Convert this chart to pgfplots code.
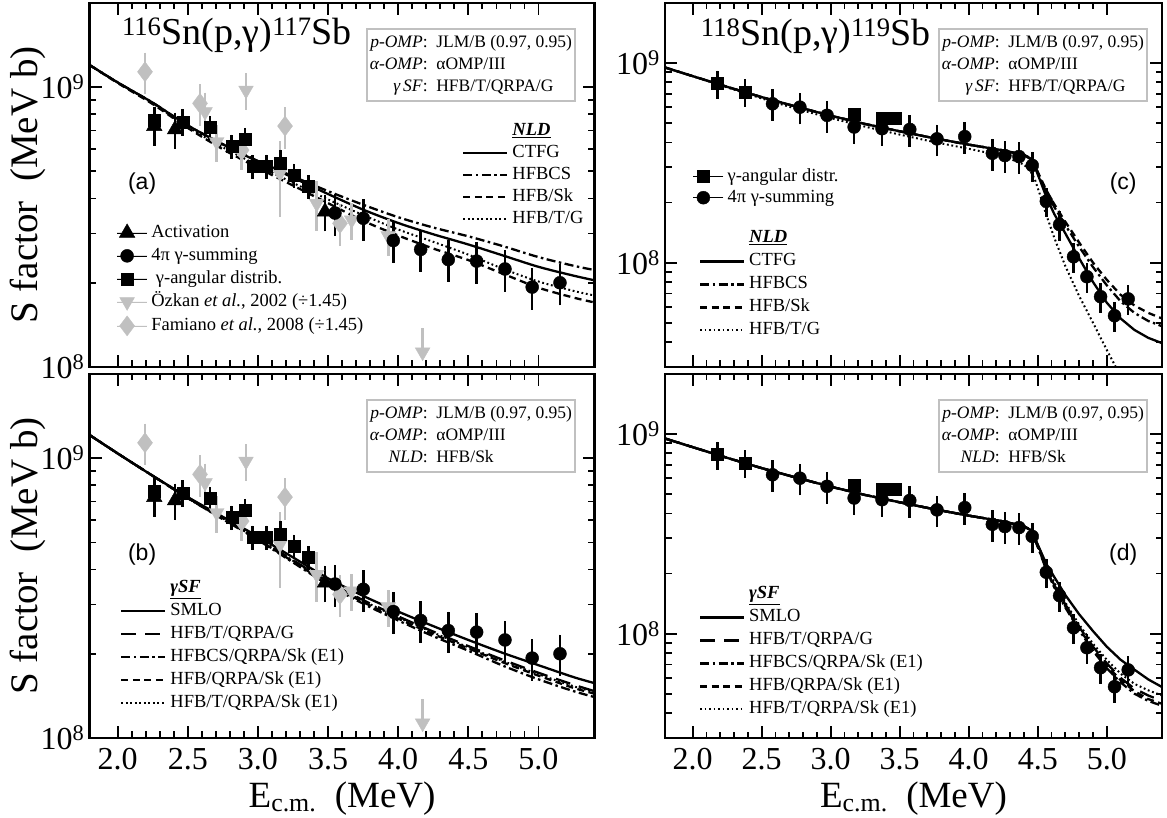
\documentclass[border=0pt]{standalone}
\usepackage{pgfplots}
\usepackage{pgfplotstable}
\pgfplotsset{compat=1.18}
\usepackage{fontspec}
\setmainfont{Liberation Serif}
\newfontfamily\sansfont{Liberation Sans}

\definecolor{lgray}{RGB}{192,192,192}
\newcommand{\legfont}{\fontsize{18.5}{23}\selectfont}
\newcommand{\boxfont}{\fontsize{17.5}{22}\selectfont}

% model curves, 116Sn: NLD variants
\pgfplotstableread{
E     CTFG    HFBCS   HFBSk    HFBTG
1.8   1.20e9  1.20e9  1.20e9   1.20e9
2.0   1.04e9  1.04e9  1.035e9  1.04e9
2.25  8.8e8   8.8e8   8.7e8    8.75e8
2.5   7.3e8   7.3e8   7.15e8   7.2e8
2.75  6.25e8  6.25e8  6.0e8    6.1e8
3.0   5.42e8  5.45e8  5.15e8   5.25e8
3.25  4.75e8  4.8e8   4.45e8   4.55e8
3.5   4.15e8  4.25e8  3.85e8   3.97e8
3.75  3.65e8  3.8e8   3.33e8   3.49e8
4.0   3.27e8  3.43e8  2.95e8   3.1e8
4.25  2.98e8  3.15e8  2.65e8   2.8e8
4.5   2.74e8  2.93e8  2.41e8   2.52e8
4.75  2.5e8   2.7e8   2.15e8   2.24e8
5.0   2.28e8  2.47e8  1.92e8   2.02e8
5.25  2.12e8  2.3e8   1.77e8   1.87e8
5.4   2.04e8  2.22e8  1.7e8    1.8e8
}\curvesA

% 116Sn: gamma strength variants
\pgfplotstableread{
E     SMLO    TQG     BCSQ    HFBQ    TQSk
1.8   1.21e9  1.21e9  1.21e9  1.21e9  1.21e9
2.0   1.04e9  1.04e9  1.04e9  1.04e9  1.04e9
2.25  8.65e8  8.65e8  8.65e8  8.65e8  8.65e8
2.5   7.26e8  7.22e8  7.20e8  7.20e8  7.22e8
2.75  6.17e8  6.10e8  6.05e8  6.07e8  6.10e8
3.0   5.25e8  5.15e8  5.10e8  5.12e8  5.17e8
3.25  4.42e8  4.32e8  4.24e8  4.27e8  4.30e8
3.5   3.72e8  3.62e8  3.53e8  3.57e8  3.60e8
3.75  3.22e8  3.11e8  3.02e8  3.06e8  3.09e8
4.0   2.83e8  2.72e8  2.63e8  2.67e8  2.70e8
4.25  2.51e8  2.40e8  2.31e8  2.35e8  2.38e8
4.5   2.24e8  2.13e8  2.05e8  2.09e8  2.11e8
4.75  2.01e8  1.90e8  1.81e8  1.86e8  1.88e8
5.0   1.82e8  1.71e8  1.62e8  1.67e8  1.69e8
5.25  1.65e8  1.55e8  1.47e8  1.51e8  1.53e8
5.4   1.57e8  1.47e8  1.40e8  1.44e8  1.46e8
}\curvesB

% 118Sn: NLD variants
\pgfplotstableread{
E     CTFG    HFBCS   HFBSk   HFBTG
1.8   9.5e8   9.5e8   9.5e8   9.5e8
2.0   8.6e8   8.6e8   8.6e8   8.6e8
2.25  7.6e8   7.6e8   7.6e8   7.55e8
2.5   6.75e8  6.75e8  6.75e8  6.65e8
2.75  6.05e8  6.05e8  6.05e8  5.9e8
3.0   5.45e8  5.45e8  5.45e8  5.3e8
3.25  4.95e8  4.95e8  4.95e8  4.8e8
3.5   4.55e8  4.55e8  4.55e8  4.38e8
3.75  4.2e8   4.2e8   4.2e8   4.02e8
4.0   3.9e8   3.9e8   3.9e8   3.72e8
4.25  3.65e8  3.65e8  3.65e8  3.42e8
4.4   3.45e8  3.46e8  3.47e8  3.1e8
4.45  3.3e8   3.32e8  3.33e8  2.85e8
4.48  3.0e8   3.05e8  3.05e8  2.6e8
4.52  2.55e8  2.62e8  2.66e8  2.15e8
4.56  2.15e8  2.27e8  2.32e8  1.75e8
4.62  1.75e8  1.9e8   1.96e8  1.33e8
4.7   1.4e8   1.54e8  1.6e8   9.6e7
4.8   1.05e8  1.2e8   1.26e8  6.8e7
4.9   8.0e7   9.5e7   1.0e8   5.0e7
5.0   6.3e7   7.7e7   8.2e7   3.65e7
5.1   5.25e7  6.4e7   6.9e7   2.7e7
5.2   4.6e7   5.6e7   6.1e7   2.0e7
5.3   4.2e7   5.1e7   5.6e7   1.5e7
5.4   3.95e7  4.8e7   5.25e7  1.1e7
}\curvesC

% 118Sn: gamma strength variants
\pgfplotstableread{
E     SMLO    TQG     BCSQ    HFBQ    TQSk
1.8   9.5e8   9.5e8   9.5e8   9.5e8   9.5e8
2.0   8.6e8   8.6e8   8.6e8   8.6e8   8.6e8
2.25  7.6e8   7.6e8   7.6e8   7.6e8   7.6e8
2.5   6.75e8  6.75e8  6.75e8  6.75e8  6.75e8
2.75  6.05e8  6.05e8  6.05e8  6.05e8  6.05e8
3.0   5.45e8  5.45e8  5.45e8  5.45e8  5.45e8
3.25  4.95e8  4.95e8  4.95e8  4.95e8  4.95e8
3.5   4.55e8  4.55e8  4.55e8  4.55e8  4.55e8
3.75  4.2e8   4.2e8   4.2e8   4.2e8   4.2e8
4.0   3.9e8   3.9e8   3.9e8   3.9e8   3.9e8
4.25  3.65e8  3.65e8  3.65e8  3.65e8  3.65e8
4.4   3.45e8  3.45e8  3.45e8  3.45e8  3.45e8
4.45  3.3e8   3.3e8   3.3e8   3.3e8   3.3e8
4.48  3.0e8   2.98e8  2.95e8  2.96e8  2.99e8
4.52  2.6e8   2.55e8  2.5e8   2.52e8  2.58e8
4.56  2.25e8  2.15e8  2.1e8   2.12e8  2.2e8
4.62  1.92e8  1.75e8  1.7e8   1.72e8  1.8e8
4.7   1.56e8  1.4e8   1.35e8  1.37e8  1.43e8
4.8   1.25e8  1.08e8  1.04e8  1.06e8  1.11e8
4.9   1.03e8  8.6e7   8.2e7   8.4e7   8.9e7
5.0   8.6e7   7.1e7   6.7e7   6.9e7   7.4e7
5.1   7.4e7   6.0e7   5.7e7   5.85e7  6.3e7
5.2   6.6e7   5.3e7   5.0e7   5.15e7  5.6e7
5.3   5.9e7   4.9e7   4.6e7   4.7e7   5.2e7
5.4   5.4e7   4.6e7   4.35e7  4.45e7  4.9e7
}\curvesD

\pgfplotsset{
  sfbase/.style={
    scale only axis, height=364pt,
    xmin=1.8, xmax=5.4,
    axis line style={line width=2.5pt},
    tick style={line width=1.8pt, black},
    major tick length=12pt, minor tick length=6.5pt,
    xtick={2,2.5,3,3.5,4,4.5,5}, minor x tick num=4,
    xticklabels={2.0,2.5,3.0,3.5,4.0,4.5,5.0},
    ytick={1e8,1e9}, yticklabels={10\textsuperscript{8},10\textsuperscript{9}},
    tick label style={font=\fontsize{32}{32}\selectfont},
    xticklabel style={inner sep=0pt, yshift=-10.5pt},
    yticklabel style={inner sep=0pt, xshift=-5pt},
  },
  sfL/.style={sfbase, width=505pt, ymin=1e8, ymax=2e9,
    minor ytick={2e8,3e8,4e8,5e8,6e8,7e8,8e8,9e8}},
  sfR/.style={sfbase, width=497pt, ymin=3e7, ymax=2e9,
    minor ytick={4e7,5e7,6e7,7e7,8e7,9e7,2e8,3e8,4e8,5e8,6e8,7e8,8e8,9e8}},
  cvsld/.style={no markers, black, line width=2.3pt, solid},
  cvddot/.style={no markers, black, line width=2.3pt, dash pattern=on 9pt off 3.5pt on 2.5pt off 3.5pt},
  cvdsh/.style={no markers, black, line width=2.3pt, dash pattern=on 7pt off 4.5pt},
  cvdtt/.style={no markers, black, line width=2pt, dash pattern=on 1.8pt off 2.7pt},
  cvldsh/.style={no markers, black, line width=2.3pt, dash pattern=on 15pt off 9pt},
  sfleg/.style={
    legend cell align=left,
    legend style={draw=none, fill=none, inner sep=0pt, font=\legfont, row sep=5pt,
      nodes={inner sep=0pt, text height=13.5pt, text depth=4.5pt},
      /tikz/every odd column/.style={column sep=4pt}},
  },
  sflineleg/.style={sfleg, legend image code/.code={\draw[##1] (0pt,0pt) -- (44pt,0pt);}},
  sfmarkleg/.style={sfleg, legend image code/.code={\path (0pt,0pt) -- (30pt,0pt); \draw[##1] plot coordinates {(10pt,0pt)};}},
  ptblk/.style={only marks, black, fill=black,
    error bars/y dir=both, error bars/y explicit relative, error bars/error mark=none,
    error bars/error bar style={line width=2.6pt, black}},
  ptgry/.style={only marks, lgray, fill=lgray,
    error bars/y dir=both, error bars/y explicit relative, error bars/error mark=none,
    error bars/error bar style={line width=2.6pt, lgray}},
  sfylab/.style={ylabel={S factor\ \ (MeV b)},
    every axis y label/.style={at={(axis description cs:-0.122,0.5)}, rotate=90, anchor=center, font=\fontsize{39}{39}\selectfont}},
  sfxlab/.style={xlabel={E\textsubscript{c.m.}\ \ (MeV)},
    every axis x label/.style={at={(axis description cs:0.5,-0.192)}, anchor=base, font=\fontsize{37}{37}\selectfont}},
}
\tikzset{
  infobox/.style={anchor=north west, draw=lgray, line width=2pt, inner sep=3pt, fill=white, font=\boxfont},
  ttl/.style={anchor=base west, inner sep=0pt, font=\fontsize{38}{38}\selectfont},
  plab/.style={font=\sansfont\fontsize{23}{23}\selectfont},
}

\begin{document}
\begin{tikzpicture}
\useasboundingbox (0pt,0pt) rectangle (1167pt,818pt);

% ---------------- (a) ----------------
\begin{semilogyaxis}[sfL, at={(89.6pt,451pt)}, anchor=south west, hide axis, sflineleg,
  legend style={at={(0.7374,0.674)}, anchor=north west, row sep=4pt}]
\addlegendimage{empty legend}
\addlegendentry{\underline{\textbf{\textit{NLD}}}}
\addplot[cvsld, smooth] table[x=E,y=CTFG]{\curvesA}; \addlegendentry{CTFG}
\addplot[cvddot, smooth] table[x=E,y=HFBCS]{\curvesA}; \addlegendentry{HFBCS}
\addplot[cvdsh, smooth] table[x=E,y=HFBSk]{\curvesA}; \addlegendentry{HFB/Sk}
\addplot[cvdtt, smooth] table[x=E,y=HFBTG]{\curvesA}; \addlegendentry{HFB/T/G}
\end{semilogyaxis}

\begin{semilogyaxis}[sfL, at={(89.6pt,451pt)}, anchor=south west, xticklabels={}, sfmarkleg, sfylab,
  legend style={at={(0.0537,0.3937)}, anchor=north west, row sep=5pt}]
\addplot[ptgry, mark=triangle*, mark size=8.5pt, mark options={rotate=180}, forget plot] coordinates {
  (2.623,8.17e8) +- (0,0.17) (2.706,6.38e8) +- (0,0.15) (2.915,9.75e8) +- (0,0.15)
  (3.157,4.92e8) +- (0,0.30) (3.419,3.84e8) +- (0,0.20) (3.668,3.35e8) +- (0,0.15)
  (3.929,2.94e8) +- (0,0.15) (4.174,1.13e8) += (0,0.22) -= (0,0)};
\addplot[ptgry, mark=diamond*, mark size=10pt, forget plot] coordinates {
  (2.195,1.135e9) +- (0,0.17) (2.587,8.75e8) +- (0,0.17) (2.884,5.96e8) +- (0,0.15)
  (3.193,7.26e8) +- (0,0.17) (3.585,3.26e8) +- (0,0.17)};
\addplot[ptblk, mark=triangle*, mark size=9pt] coordinates {
  (2.261,7.26e8) +- (0,0.15) (2.409,7.06e8) +- (0,0.15) (3.478,3.59e8) +- (0,0.15)};
\addlegendentry{Activation}
\addplot[ptblk, mark=*, mark size=6.5pt] coordinates {
  (3.549,3.55e8) +- (0,0.17) (3.751,3.40e8) +- (0,0.17) (3.965,2.83e8) +- (0,0.17)
  (4.160,2.63e8) +- (0,0.17) (4.357,2.42e8) +- (0,0.17) (4.559,2.39e8) +- (0,0.17)
  (4.761,2.24e8) +- (0,0.17) (4.955,1.93e8) +- (0,0.17) (5.153,2.00e8) +- (0,0.17)};
\addlegendentry{4π γ-summing}
\addplot[ptblk, mark=square*, mark size=6pt] coordinates {
  (2.261,7.63e8) +- (0,0.11) (2.464,7.52e8) +- (0,0.11) (2.658,7.18e8) +- (0,0.10)
  (2.813,6.15e8) +- (0,0.10) (2.908,6.50e8) +- (0,0.10) (2.963,5.22e8) +- (0,0.10)
  (3.062,5.22e8) +- (0,0.10) (3.162,5.33e8) +- (0,0.12) (3.257,4.85e8) +- (0,0.10)
  (3.359,4.41e8) +- (0,0.10)};
\addlegendentry{\ γ-angular distrib.}
\addlegendimage{only marks, mark=triangle*, mark size=8.5pt, mark options={rotate=180}, lgray, fill=lgray}
\addlegendentry{Özkan \textit{et al.}, 2002 (÷1.45)}
\addlegendimage{only marks, mark=diamond*, mark size=10pt, lgray, fill=lgray}
\addlegendentry{Famiano \textit{et al.}, 2008 (÷1.45)}
\node[ttl] at (rel axis cs:0.064,0.885) {\textsuperscript{116}Sn(p,γ)\textsuperscript{117}Sb};
\node[infobox] at (rel axis cs:0.547,0.931) {\begin{tabular}{@{}r@{:\ \ }l@{}}
  \textit{p-OMP} & JLM/B (0.97, 0.95)\\ \textit{α-OMP} & αOMP/III\\ \textit{γ\,SF} & HFB/T/QRPA/G\end{tabular}};
\node[plab] at (rel axis cs:0.104,0.505) {(a)};
\end{semilogyaxis}

% ---------------- (b) ----------------
\begin{semilogyaxis}[sfL, at={(89.6pt,80pt)}, anchor=south west, hide axis, sflineleg,
  legend style={at={(0.060,0.4376)}, anchor=north west, row sep=5pt}]
\addlegendimage{empty legend}
\addlegendentry{\underline{\textbf{\textit{γSF}}}}
\addplot[cvsld, smooth] table[x=E,y=SMLO]{\curvesB}; \addlegendentry{SMLO}
\addplot[cvldsh, smooth] table[x=E,y=TQG]{\curvesB}; \addlegendentry{HFB/T/QRPA/G}
\addplot[cvddot, smooth] table[x=E,y=BCSQ]{\curvesB}; \addlegendentry{HFBCS/QRPA/Sk (E1)}
\addplot[cvdsh, smooth] table[x=E,y=HFBQ]{\curvesB}; \addlegendentry{HFB/QRPA/Sk (E1)}
\addplot[cvdtt, smooth] table[x=E,y=TQSk]{\curvesB}; \addlegendentry{HFB/T/QRPA/Sk (E1)}
\end{semilogyaxis}

\begin{semilogyaxis}[sfL, at={(89.6pt,80pt)}, anchor=south west, sfylab, sfxlab]
\addplot[ptgry, mark=triangle*, mark size=8.5pt, mark options={rotate=180}] coordinates {
  (2.623,8.17e8) +- (0,0.17) (2.706,6.38e8) +- (0,0.15) (2.915,9.75e8) +- (0,0.15)
  (3.157,4.92e8) +- (0,0.30) (3.419,3.84e8) +- (0,0.20) (3.668,3.35e8) +- (0,0.15)
  (3.929,2.94e8) +- (0,0.15) (4.174,1.13e8) += (0,0.22) -= (0,0)};
\addplot[ptgry, mark=diamond*, mark size=10pt] coordinates {
  (2.195,1.135e9) +- (0,0.17) (2.587,8.75e8) +- (0,0.17) (2.884,5.96e8) +- (0,0.15)
  (3.193,7.26e8) +- (0,0.17) (3.585,3.26e8) +- (0,0.17)};
\addplot[ptblk, mark=triangle*, mark size=9pt] coordinates {
  (2.261,7.26e8) +- (0,0.15) (2.409,7.06e8) +- (0,0.15) (3.478,3.59e8) +- (0,0.15)};
\addplot[ptblk, mark=*, mark size=6.5pt] coordinates {
  (3.549,3.55e8) +- (0,0.17) (3.751,3.40e8) +- (0,0.17) (3.965,2.83e8) +- (0,0.17)
  (4.160,2.63e8) +- (0,0.17) (4.357,2.42e8) +- (0,0.17) (4.559,2.39e8) +- (0,0.17)
  (4.761,2.24e8) +- (0,0.17) (4.955,1.93e8) +- (0,0.17) (5.153,2.00e8) +- (0,0.17)};
\addplot[ptblk, mark=square*, mark size=6pt] coordinates {
  (2.261,7.63e8) +- (0,0.11) (2.464,7.52e8) +- (0,0.11) (2.658,7.18e8) +- (0,0.10)
  (2.813,6.15e8) +- (0,0.10) (2.908,6.50e8) +- (0,0.10) (2.963,5.22e8) +- (0,0.10)
  (3.062,5.22e8) +- (0,0.10) (3.162,5.33e8) +- (0,0.12) (3.257,4.85e8) +- (0,0.10)
  (3.359,4.41e8) +- (0,0.10)};
\node[infobox] at (rel axis cs:0.547,0.93) {\begin{tabular}{@{}r@{:\ \ }l@{}}
  \textit{p-OMP} & JLM/B (0.97, 0.95)\\ \textit{α-OMP} & αOMP/III\\ \textit{NLD} & HFB/Sk\end{tabular}};
\node[plab] at (rel axis cs:0.104,0.503) {(b)};
\end{semilogyaxis}

% ---------------- (c) ----------------
\begin{semilogyaxis}[sfR, at={(665pt,451pt)}, anchor=south west, hide axis, sflineleg,
  legend style={at={(0.0678,0.3786)}, anchor=north west, row sep=5pt}]
\addlegendimage{empty legend}
\addlegendentry{\underline{\textbf{\textit{NLD}}}}
\addplot[cvsld] table[x=E,y=CTFG]{\curvesC}; \addlegendentry{CTFG}
\addplot[cvddot] table[x=E,y=HFBCS]{\curvesC}; \addlegendentry{HFBCS}
\addplot[cvdsh] table[x=E,y=HFBSk]{\curvesC}; \addlegendentry{HFB/Sk}
\addplot[cvdtt] table[x=E,y=HFBTG]{\curvesC}; \addlegendentry{HFB/T/G}
\end{semilogyaxis}

\begin{semilogyaxis}[sfR, at={(665pt,451pt)}, anchor=south west, xticklabels={}, sfmarkleg,
  legend style={at={(0.0563,0.548)}, anchor=north west, row sep=3pt}]
\addplot[ptblk, mark=square*, mark size=6pt] coordinates {
  (2.180,7.90e8) +- (0,0.16) (2.379,7.17e8) +- (0,0.16) (3.170,5.57e8) +- (0,0.06)
  (3.372,5.32e8) +- (0,0.06) (3.469,5.32e8) +- (0,0.06)};
\addlegendentry{γ-angular distr.}
\addplot[ptblk, mark=*, mark size=6.5pt] coordinates {
  (2.579,6.25e8) +- (0,0.18) (2.777,6.01e8) +- (0,0.18) (2.974,5.47e8) +- (0,0.18)
  (3.170,4.78e8) +- (0,0.18) (3.372,4.69e8) +- (0,0.18) (3.573,4.65e8) +- (0,0.18)
  (3.770,4.17e8) +- (0,0.18) (3.971,4.28e8) +- (0,0.18) (4.171,3.53e8) +- (0,0.18)
  (4.262,3.44e8) +- (0,0.18) (4.364,3.40e8) +- (0,0.18) (4.460,3.07e8) +- (0,0.17)
  (4.562,2.03e8) +- (0,0.17) (4.658,1.55e8) +- (0,0.17) (4.759,1.07e8) +- (0,0.17)
  (4.856,8.50e7) +- (0,0.17) (4.955,6.75e7) +- (0,0.17) (5.056,5.42e7) +- (0,0.17)
  (5.155,6.58e7) +- (0,0.17)};
\addlegendentry{4π γ-summing}
\node[ttl] at (rel axis cs:0.072,0.883) {\textsuperscript{118}Sn(p,γ)\textsuperscript{119}Sb};
\node[infobox] at (rel axis cs:0.549,0.93) {\begin{tabular}{@{}r@{:\ \ }l@{}}
  \textit{p-OMP} & JLM/B (0.97, 0.95)\\ \textit{α-OMP} & αOMP/III\\ \textit{γ\,SF} & HFB/T/QRPA/G\end{tabular}};
\node[plab] at (rel axis cs:0.922,0.504) {(c)};
\end{semilogyaxis}

% ---------------- (d) ----------------
\begin{semilogyaxis}[sfR, at={(665pt,80pt)}, anchor=south west, hide axis, sflineleg,
  legend style={at={(0.0678,0.4195)}, anchor=north west, row sep=5pt}]
\addlegendimage{empty legend}
\addlegendentry{\underline{\textbf{\textit{γSF}}}}
\addplot[cvsld] table[x=E,y=SMLO]{\curvesD}; \addlegendentry{SMLO}
\addplot[cvldsh] table[x=E,y=TQG]{\curvesD}; \addlegendentry{HFB/T/QRPA/G}
\addplot[cvddot] table[x=E,y=BCSQ]{\curvesD}; \addlegendentry{HFBCS/QRPA/Sk (E1)}
\addplot[cvdsh] table[x=E,y=HFBQ]{\curvesD}; \addlegendentry{HFB/QRPA/Sk (E1)}
\addplot[cvdtt] table[x=E,y=TQSk]{\curvesD}; \addlegendentry{HFB/T/QRPA/Sk (E1)}
\end{semilogyaxis}

\begin{semilogyaxis}[sfR, at={(665pt,80pt)}, anchor=south west, sfxlab]
\addplot[ptblk, mark=square*, mark size=6pt] coordinates {
  (2.180,7.90e8) +- (0,0.16) (2.379,7.17e8) +- (0,0.16) (3.170,5.57e8) +- (0,0.06)
  (3.372,5.32e8) +- (0,0.06) (3.469,5.32e8) +- (0,0.06)};
\addplot[ptblk, mark=*, mark size=6.5pt] coordinates {
  (2.579,6.25e8) +- (0,0.18) (2.777,6.01e8) +- (0,0.18) (2.974,5.47e8) +- (0,0.18)
  (3.170,4.78e8) +- (0,0.18) (3.372,4.69e8) +- (0,0.18) (3.573,4.65e8) +- (0,0.18)
  (3.770,4.17e8) +- (0,0.18) (3.971,4.28e8) +- (0,0.18) (4.171,3.53e8) +- (0,0.18)
  (4.262,3.44e8) +- (0,0.18) (4.364,3.40e8) +- (0,0.18) (4.460,3.07e8) +- (0,0.17)
  (4.562,2.03e8) +- (0,0.17) (4.658,1.55e8) +- (0,0.17) (4.759,1.07e8) +- (0,0.17)
  (4.856,8.50e7) +- (0,0.17) (4.955,6.75e7) +- (0,0.17) (5.056,5.42e7) +- (0,0.17)
  (5.155,6.58e7) +- (0,0.17)};
\node[infobox] at (rel axis cs:0.549,0.93) {\begin{tabular}{@{}r@{:\ \ }l@{}}
  \textit{p-OMP} & JLM/B (0.97, 0.95)\\ \textit{α-OMP} & αOMP/III\\ \textit{NLD} & HFB/Sk\end{tabular}};
\node[plab] at (rel axis cs:0.922,0.503) {(d)};
\end{semilogyaxis}
\end{tikzpicture}
\end{document}
